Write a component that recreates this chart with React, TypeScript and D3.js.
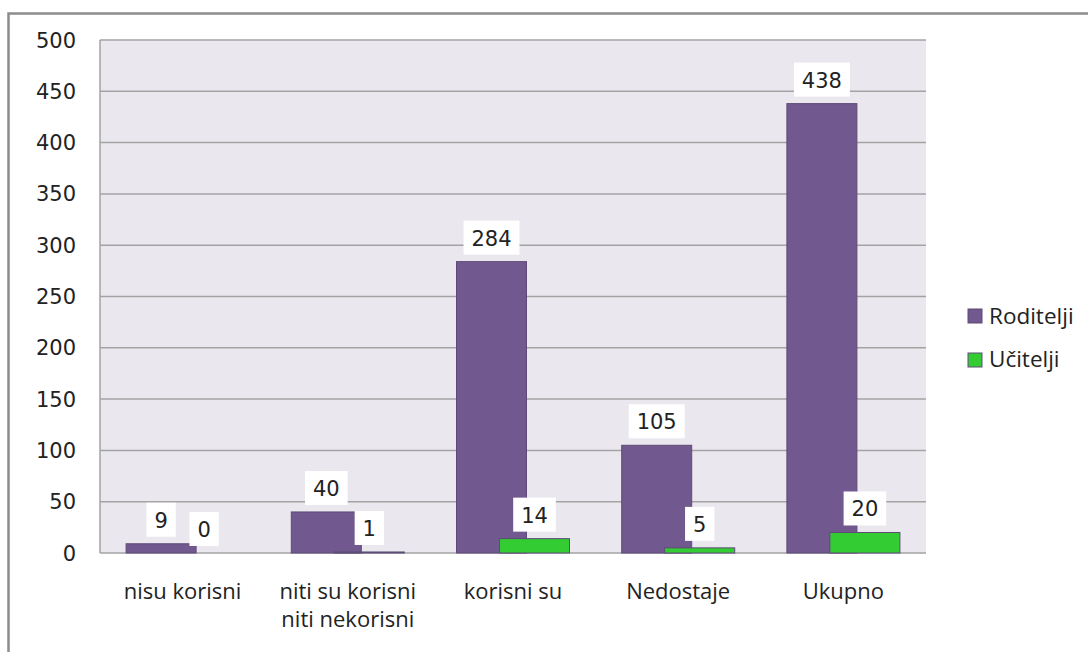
import React from "react";
import * as d3 from "d3";

const categories: string[][] = [
  ["nisu korisni"],
  ["niti su korisni", "niti nekorisni"],
  ["korisni su"],
  ["Nedostaje"],
  ["Ukupno"],
];
const seriesNames = ["Roditelji", "Učitelji"];
const roditelji = [9, 40, 284, 105, 438];
const ucitelji = [0, 1, 14, 5, 20];
const yTicks = [0, 50, 100, 150, 200, 250, 300, 350, 400, 450, 500];
const colors = ["#71588F", "#33CC33"];

const W = 1088;
const H = 652;
const plot = { left: 100, right: 926, top: 40, bottom: 553 };
const numFont = "'DejaVu Sans', sans-serif";
const textFont = "'Open Sans', Lato, sans-serif";

export default function App() {
  const y = d3.scaleLinear().domain([0, 500]).range([plot.bottom, plot.top]);
  const x = d3
    .scaleBand<number>()
    .domain(d3.range(categories.length))
    .range([plot.left, plot.right]);
  const bw = 70;
  const off = 43;
  const series = [roditelji, ucitelji];

  const label = (cx: number, top: number, v: number, key: string) => {
    const s = String(v);
    const w = s.length * 13.3 + 16;
    const h = 34;
    const bottom = top - 7;
    return (
      <g key={key}>
        <rect x={cx - w / 2} y={bottom - h} width={w} height={h} fill="#fff" />
        <text
          x={cx}
          y={bottom - h / 2 + 8}
          textAnchor="middle"
          fontFamily={numFont}
          fontSize={21}
          fill="#222"
        >
          {s}
        </text>
      </g>
    );
  };

  return (
    <svg
      width={W}
      height={H}
      style={{ position: "absolute", left: 0, top: 0, background: "#fff" }}
    >
      <rect x={8.5} y={13.5} width={W + 10} height={H + 10} fill="#fff" stroke="#8c8c8c" strokeWidth={2.5} />
      <rect
        x={plot.left}
        y={plot.top}
        width={plot.right - plot.left}
        height={plot.bottom - plot.top}
        fill="#EAE8EE"
      />
      {yTicks.map((t) => (
        <g key={t}>
          <line
            x1={plot.left}
            x2={plot.right}
            y1={y(t)}
            y2={y(t)}
            stroke="#a3a3a3"
            strokeWidth={1.5}
          />
          <text
            x={76}
            y={y(t) + 7.5}
            textAnchor="end"
            fontFamily={numFont}
            fontSize={21}
            fill="#222"
          >
            {t}
          </text>
        </g>
      ))}
      <line x1={plot.left} x2={plot.left} y1={plot.top} y2={plot.bottom} stroke="#a3a3a3" strokeWidth={1.5} />
      {categories.map((c, i) => {
        const start = (x(i) as number) + (x.bandwidth() - (bw + off)) / 2;
        return (
          <g key={i}>
            {series.map((vals, si) => {
              const bx = start + si * off;
              const top = y(vals[i]);
              return (
                <rect
                  key={si}
                  x={bx}
                  y={top}
                  width={bw}
                  height={plot.bottom - top}
                  fill={colors[si]}
                  stroke="#5e4a78"
                  strokeWidth={1}
                />
              );
            })}
            {series.map((vals, si) =>
              label(start + si * off + bw / 2, y(vals[i]), vals[i], `l${si}`)
            )}
            {c.map((line, li) => (
              <text
                key={li}
                x={(x(i) as number) + x.bandwidth() / 2}
                y={599 + li * 28}
                textAnchor="middle"
                fontFamily={textFont}
                fontSize={22}
                fill="#222"
              >
                {line}
              </text>
            ))}
          </g>
        );
      })}
      {seriesNames.map((n, i) => (
        <g key={n}>
          <rect
            x={968}
            y={309 + i * 44}
            width={14}
            height={14}
            fill={colors[i]}
            stroke="#5e4a78"
            strokeWidth={1}
          />
          <text x={989} y={324 + i * 43} fontFamily={textFont} fontSize={22.5} fill="#222">
            {n}
          </text>
        </g>
      ))}
    </svg>
  );
}
